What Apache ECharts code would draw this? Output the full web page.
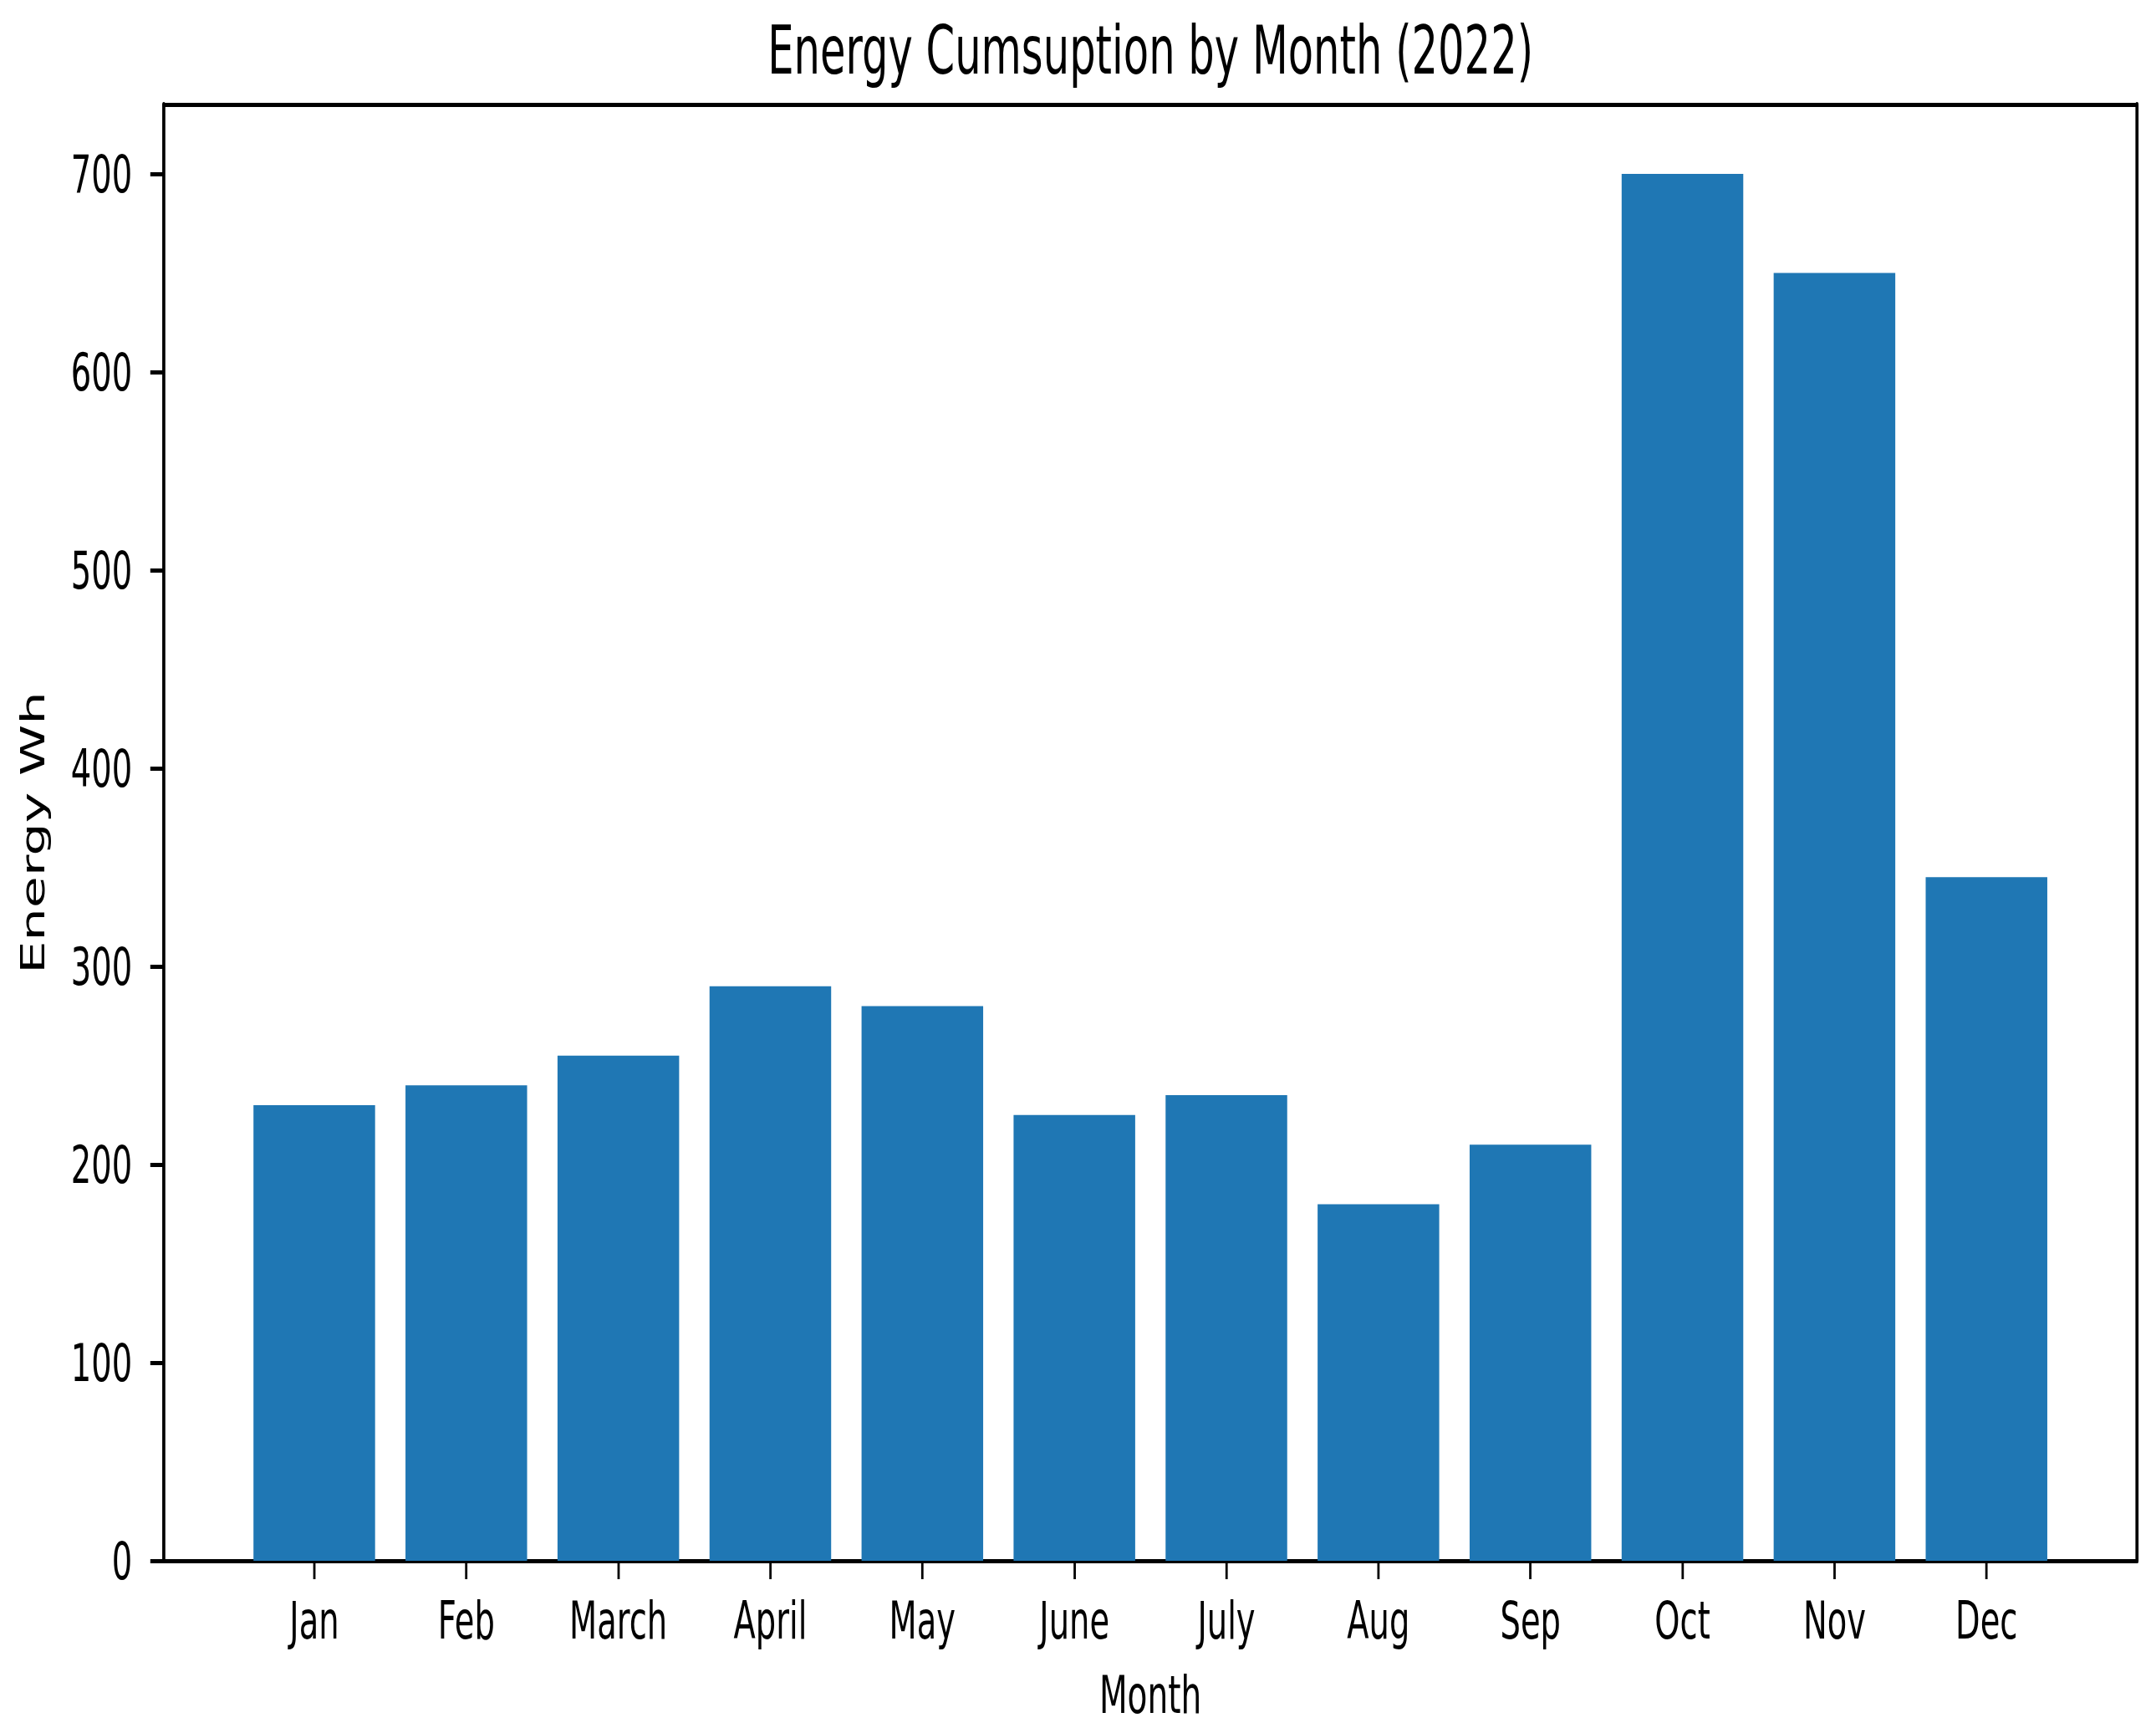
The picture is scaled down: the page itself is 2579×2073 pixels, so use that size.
<!DOCTYPE html>
<html>
<head>
<meta charset="utf-8">
<script src="https://cdn.jsdelivr.net/npm/echarts@6/dist/echarts.min.js"></script>
<style>
  html, body { margin: 0; padding: 0; width: 2579px; height: 2073px; overflow: hidden; background: #fff; }
  #chart { position: absolute; left: 0; top: 0; width: 4160px; height: 2073px; transform: scaleX(0.62); transform-origin: 0 0; }
</style>
</head>
<body>
<div id="chart"></div>
<script>
// ---- data ----
const months = ['Jan', 'Feb', 'March', 'April', 'May', 'June', 'July', 'Aug', 'Sep', 'Oct', 'Nov', 'Dec'];
const energy = [230, 240, 255, 290, 280, 225, 235, 180, 210, 700, 650, 345];
const yTicks = [0, 100, 200, 300, 400, 500, 600, 700];
const yMax = 735;
const titleText = 'Energy Cumsuption by Month (2022)';
const xName = 'Month';
const yName = 'Energy Wh';

const FONT = 'DejaVu Sans';
const chart = echarts.init(document.getElementById('chart'), null, { renderer: 'svg' });

const gLeft = 316, gRight = 37, gTop = 125, gBottom = 206;
const plotW = 4160 - gLeft - gRight;
const band = plotW / 12.98;
const innerL = gLeft + 0.49 * band;
const innerR = gRight + 0.49 * band;

const option = {
  backgroundColor: '#ffffff',
  animation: false,
  title: {
    text: titleText,
    left: gLeft + plotW / 2,
    textAlign: 'center',
    top: 20,
    padding: 0,
    textStyle: { fontFamily: FONT, fontSize: 80, fontWeight: 'normal', color: '#000' }
  },
  grid: [
    { left: gLeft, right: gRight, top: gTop, bottom: gBottom, containLabel: false },
    { left: innerL, right: innerR, top: gTop, bottom: gBottom, containLabel: false }
  ],
  xAxis: [
    {
      gridIndex: 0, type: 'value', position: 'bottom', min: 0, max: 1,
      axisLine: { show: true, onZero: false, lineStyle: { color: '#000', width: 5 } },
      axisTick: { show: false }, axisLabel: { show: false }, splitLine: { show: false },
      name: xName, nameLocation: 'middle', nameGap: 128,
      nameTextStyle: { fontFamily: FONT, fontSize: 63, color: '#000' }
    },
    {
      gridIndex: 0, type: 'value', position: 'top', min: 0, max: 1,
      axisLine: { show: true, onZero: false, lineStyle: { color: '#000', width: 5 } },
      axisTick: { show: false }, axisLabel: { show: false }, splitLine: { show: false }
    },
    {
      gridIndex: 1, type: 'category', position: 'bottom', data: months,
      axisLine: { show: false },
      axisTick: { show: true, alignWithLabel: true, length: 22, lineStyle: { color: '#000', width: 4.5 } },
      axisLabel: { interval: 0, margin: 40, fontFamily: FONT, fontSize: 62, color: '#000' },
      splitLine: { show: false }
    }
  ],
  yAxis: [
    {
      gridIndex: 0, type: 'value', position: 'left', min: 0, max: yMax, interval: 100,
      axisLine: { show: true, onZero: false, lineStyle: { color: '#000', width: 6 } },
      axisTick: { show: true, length: 26, customValues: yTicks, lineStyle: { color: '#000', width: 5 } },
      axisLabel: { customValues: yTicks, margin: 61, fontFamily: FONT, fontSize: 62, color: '#000' },
      splitLine: { show: false },
      name: yName, nameLocation: 'middle', nameRotate: 90, nameGap: 221,
      nameTextStyle: { fontFamily: FONT, fontSize: 62, color: '#000' }
    },
    {
      gridIndex: 0, type: 'value', position: 'right', min: 0, max: yMax,
      axisLine: { show: true, onZero: false, lineStyle: { color: '#000', width: 6 } },
      axisTick: { show: false }, axisLabel: { show: false }, splitLine: { show: false }
    },
    {
      gridIndex: 1, type: 'value', min: 0, max: yMax, show: false,
      splitLine: { show: false }
    }
  ],
  series: [
    {
      type: 'bar',
      xAxisIndex: 2,
      yAxisIndex: 2,
      data: energy,
      barWidth: '80%',
      itemStyle: { color: '#1f77b4' }
    }
  ]
};
chart.setOption(option);
</script>
</body>
</html>
